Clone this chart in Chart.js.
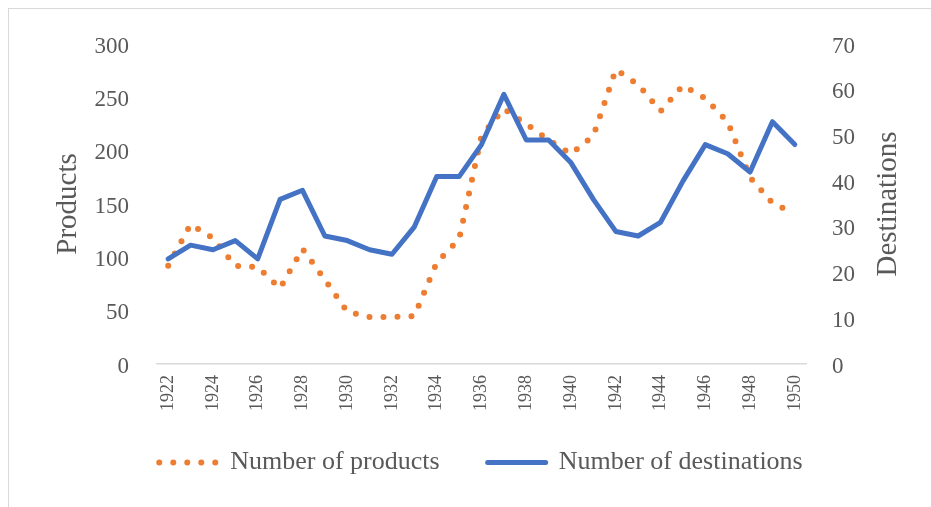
<!DOCTYPE html>
<html>
<head>
<meta charset="utf-8">
<script src="https://cdn.jsdelivr.net/npm/chart.js@4.4.1/dist/chart.umd.min.js"></script>
<style>
  html, body { margin: 0; padding: 0; background: #fff; overflow: hidden; width: 931px; height: 507px; }
  #frame { position: absolute; left: 8px; top: 8px; width: 980px; height: 540px;
           border-left: 1px solid #d9d9d9; border-top: 1px solid #d9d9d9; }
  #wrap { position: absolute; left: 0; top: 0; width: 944px; height: 498px; }
</style>
</head>
<body>
<div id="frame"><div id="wrap"><canvas id="c"></canvas></div></div>
<script>
// Yearly series, 1922-1950
const years = [1922, 1923, 1924, 1925, 1926, 1927, 1928, 1929, 1930, 1931,
               1932, 1933, 1934, 1935, 1936, 1937, 1938, 1939, 1940, 1941,
               1942, 1943, 1944, 1945, 1946, 1947, 1948, 1949, 1950];
const products = [92, 131, 118, 92, 91, 71, 108, 79, 49, 44,
                  44, 45, 95, 117, 214, 239, 225, 210, 197, 214,
                  276, 262, 237, 261, 249, 227, 175, 151, 141];
const destinations = [23, 26, 25, 27, 23, 36, 38, 28, 27, 25,
                      24, 30, 41, 41, 48, 59, 49, 49, 44, 36,
                      29, 28, 31, 40, 48, 46, 42, 53, 48];
const productTicks = { min: 0, max: 300, step: 50 };
const destinationTicks = { min: 0, max: 70, step: 10 };
const seriesNames = ['Number of products', 'Number of destinations'];
const axisTitles = ['Products', 'Destinations'];

const FONT = "'Liberation Serif', 'Times New Roman', serif";
const TEXT = '#595959';
const ORANGE = '#ED7D31';
const BLUE = '#4472C4';

// Right-hand axis title, written bottom-to-top like the left one
const rightTitle = {
  id: 'rightTitle',
  afterDraw(chart) {
    const s = chart.scales.y1;
    const ctx = chart.ctx;
    ctx.save();
    ctx.font = '29px ' + FONT;
    ctx.fillStyle = TEXT;
    ctx.textAlign = 'center';
    ctx.textBaseline = 'middle';
    ctx.translate(s.right - 65, (s.top + s.bottom) / 2);
    ctx.rotate(-Math.PI / 2);
    ctx.fillText(axisTitles[1], 0, 0);
    ctx.restore();
  }
};

// Fixed axis widths; the plot edges come from the layout padding alone
const fixWidth = w => s => { s.width = w; s.paddingTop = 0; s.paddingBottom = 0; };

new Chart(document.getElementById('c'), {
  type: 'line',
  data: {
    labels: years,
    datasets: [
      {
        label: seriesNames[0],
        data: products,
        yAxisID: 'y',
        borderColor: ORANGE,
        backgroundColor: ORANGE,
        borderWidth: 6,
        borderDash: [0, 14],
        borderCapStyle: 'round',
        borderJoinStyle: 'round',
        pointRadius: 0,
        tension: 0,
        order: 1
      },
      {
        label: seriesNames[1],
        data: destinations,
        yAxisID: 'y1',
        borderColor: BLUE,
        backgroundColor: BLUE,
        borderWidth: 5,
        borderCapStyle: 'round',
        borderJoinStyle: 'round',
        pointRadius: 0,
        tension: 0,
        order: 0
      }
    ]
  },
  plugins: [rightTitle],
  options: {
    responsive: true,
    maintainAspectRatio: false,
    animation: false,
    layout: { autoPadding: false, padding: { top: 35, left: 0, right: 0, bottom: 21.5 } },
    plugins: {
      tooltip: { enabled: false },
      legend: {
        position: 'bottom',
        labels: {
          font: { family: FONT, size: 26 },
          color: TEXT,
          usePointStyle: true,
          pointStyleWidth: 58,
          padding: 35,
          generateLabels: () => [
            { text: seriesNames[0] + '\u2002', fillStyle: ORANGE, strokeStyle: ORANGE, lineWidth: 6,
              lineDash: [0, 14], lineCap: 'round', pointStyle: 'line', fontColor: TEXT, datasetIndex: 0 },
            { text: seriesNames[1], fillStyle: BLUE, strokeStyle: BLUE, lineWidth: 5,
              lineDash: [], lineCap: 'round', pointStyle: 'line', fontColor: TEXT, datasetIndex: 1 }
          ]
        }
      }
    },
    scales: {
      x: {
        type: 'category',
        offset: true,
        grid: { display: true, color: 'rgba(0,0,0,0)', drawTicks: false },
        border: { display: true, color: '#d9d9d9', width: 1.5 },
        ticks: {
          autoSkip: false,
          maxRotation: 90,
          minRotation: 90,
          padding: 11,
          color: TEXT,
          font: { family: FONT, size: 18 },
          callback: (v, i) => (i % 2 === 0 ? String(years[i]) : '')
        },
        afterFit: s => { s.height = 50.5; }
      },
      y: {
        position: 'left',
        min: productTicks.min,
        max: productTicks.max,
        grid: { display: false, drawTicks: false },
        border: { display: false },
        ticks: { stepSize: productTicks.step, padding: 28, labelOffset: 2.5, color: TEXT,
                 font: { family: FONT, size: 23 } },
        title: { display: true, text: axisTitles[0], color: TEXT,
                 font: { family: FONT, size: 29 }, padding: { top: 41.6, bottom: 0 } },
        afterFit: fixWidth(148)
      },
      y1: {
        position: 'right',
        min: destinationTicks.min,
        max: destinationTicks.max,
        grid: { display: false, drawTicks: false },
        border: { display: false },
        ticks: { stepSize: destinationTicks.step, padding: 26, labelOffset: 2.5, color: TEXT,
                 font: { family: FONT, size: 23 } },
        afterFit: fixWidth(147)
      }
    }
  }
});
</script>
</body>
</html>
